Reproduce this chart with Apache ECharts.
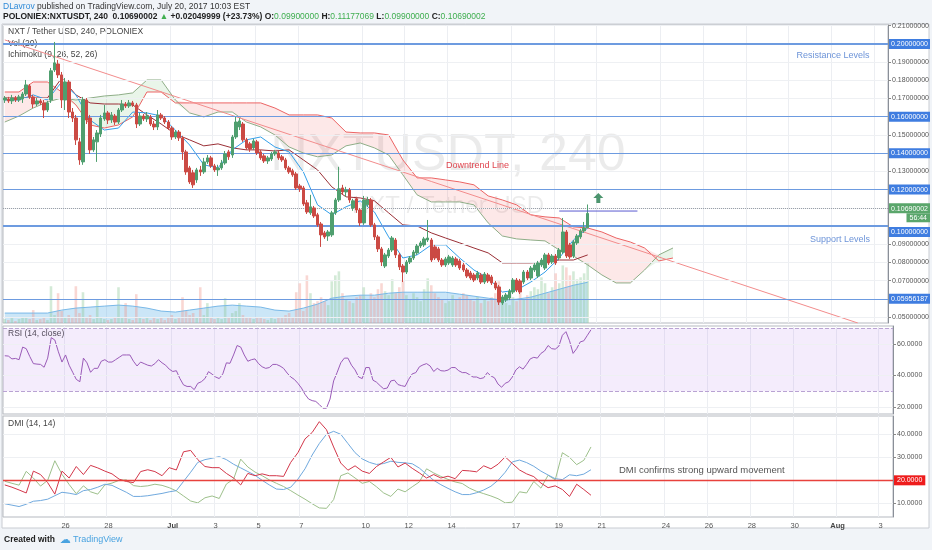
<!DOCTYPE html>
<html>
<head>
<meta charset="utf-8">
<script src="https://cdn.jsdelivr.net/npm/echarts@6/dist/echarts.min.js"></script>
<style>
  html, body { margin: 0; padding: 0; background: #f1f4f8; }
  #chart { width: 932px; height: 550px; }
</style>
</head>
<body>
<div id="chart"></div>
<script>
// 4h slots from Jun 23 04:00 to Aug 3 16:00 (UTC)
var START = Date.UTC(2017, 5, 23, 4);
var SLOTS = 249;

// day ticks shown on the time axis
var xTicks = [
  ['2017-06-26', '26'], ['2017-06-28', '28'], ['2017-07-01', 'Jul'], ['2017-07-03', '3'],
  ['2017-07-05', '5'], ['2017-07-07', '7'], ['2017-07-10', '10'], ['2017-07-12', '12'],
  ['2017-07-14', '14'], ['2017-07-17', '17'], ['2017-07-19', '19'], ['2017-07-21', '21'],
  ['2017-07-24', '24'], ['2017-07-26', '26'], ['2017-07-28', '28'], ['2017-07-30', '30'],
  ['2017-08-01', 'Aug'], ['2017-08-03', '3']
];

// candles: [open, close, low, high]
var candles = [
  [0.1692,0.1703,0.1676,0.1714],[0.1698,0.1687,0.1676,0.1709],[0.1687,0.1703,0.1670,0.1720],[0.1703,0.1692,0.1681,0.1714],
  [0.1692,0.1709,0.1681,0.1720],[0.1698,0.1725,0.1676,0.1736],[0.1725,0.1775,0.1714,0.1802],[0.1769,0.1709,0.1698,0.1780],
  [0.1709,0.1670,0.1648,0.1720],[0.1670,0.1687,0.1659,0.1703],[0.1687,0.1676,0.1665,0.1698],[0.1676,0.1637,0.1593,0.1692],
  [0.1637,0.1676,0.1626,0.1687],[0.1692,0.1852,0.1676,0.1868],[0.1857,0.1896,0.1846,0.2011],[0.1890,0.1830,0.1813,0.1912],
  [0.1830,0.1692,0.1648,0.1846],[0.1692,0.1791,0.1637,0.1813],[0.1791,0.1626,0.1593,0.1802],[0.1626,0.1593,0.1571,0.1648],
  [0.1593,0.1473,0.1445,0.1610],[0.1462,0.1363,0.1336,0.1484],[0.1352,0.1692,0.1336,0.1709],[0.1692,0.1582,0.1560,0.1703],
  [0.1593,0.1418,0.1396,0.1610],[0.1418,0.1473,0.1407,0.1489],[0.1462,0.1511,0.1352,0.1527],[0.1505,0.1593,0.1489,0.1610],
  [0.1588,0.1621,0.1577,0.1665],[0.1621,0.1582,0.1560,0.1632],[0.1582,0.1610,0.1566,0.1626],[0.1604,0.1571,0.1555,0.1615],
  [0.1571,0.1637,0.1560,0.1648],[0.1637,0.1670,0.1626,0.1692],[0.1670,0.1659,0.1648,0.1681],[0.1659,0.1676,0.1648,0.1692],
  [0.1676,0.1665,0.1654,0.1687],[0.1665,0.1560,0.1538,0.1676],[0.1560,0.1604,0.1549,0.1621],[0.1604,0.1588,0.1577,0.1615],
  [0.1588,0.1604,0.1571,0.1626],[0.1599,0.1560,0.1549,0.1610],[0.1560,0.1544,0.1527,0.1577],[0.1544,0.1610,0.1527,0.1637],
  [0.1610,0.1593,0.1582,0.1621],[0.1593,0.1571,0.1560,0.1604],[0.1571,0.1538,0.1527,0.1582],[0.1538,0.1489,0.1473,0.1549],
  [0.1489,0.1516,0.1478,0.1527],[0.1516,0.1484,0.1467,0.1527],[0.1484,0.1407,0.1363,0.1495],[0.1407,0.1297,0.1281,0.1418],
  [0.1319,0.1242,0.1231,0.1330],[0.1292,0.1226,0.1209,0.1308],[0.1253,0.1308,0.1237,0.1319],[0.1308,0.1297,0.1275,0.1330],
  [0.1297,0.1352,0.1286,0.1374],[0.1352,0.1374,0.1341,0.1390],[0.1374,0.1330,0.1319,0.1385],[0.1330,0.1308,0.1297,0.1341],
  [0.1308,0.1319,0.1275,0.1336],[0.1319,0.1346,0.1308,0.1363],[0.1346,0.1396,0.1336,0.1412],[0.1407,0.1380,0.1363,0.1418],
  [0.1390,0.1489,0.1374,0.1500],[0.1489,0.1571,0.1478,0.1599],[0.1544,0.1577,0.1527,0.1593],[0.1560,0.1473,0.1462,0.1571],
  [0.1473,0.1429,0.1418,0.1484],[0.1451,0.1423,0.1407,0.1462],[0.1429,0.1467,0.1418,0.1478],[0.1462,0.1401,0.1390,0.1473],
  [0.1407,0.1374,0.1363,0.1418],[0.1385,0.1357,0.1346,0.1396],[0.1357,0.1374,0.1341,0.1385],[0.1368,0.1396,0.1357,0.1407],
  [0.1396,0.1407,0.1385,0.1418],[0.1401,0.1374,0.1363,0.1412],[0.1380,0.1363,0.1352,0.1390],[0.1363,0.1319,0.1308,0.1374],
  [0.1319,0.1297,0.1286,0.1330],[0.1303,0.1281,0.1270,0.1314],[0.1286,0.1209,0.1198,0.1297],[0.1220,0.1204,0.1187,0.1231],
  [0.1209,0.1121,0.1110,0.1220],[0.1127,0.1077,0.1066,0.1143],[0.1072,0.1105,0.1061,0.1171],[0.1099,0.1055,0.1044,0.1110],
  [0.1061,0.1006,0.0995,0.1072],[0.1011,0.0951,0.0885,0.1022],[0.0962,0.0940,0.0929,0.0973],[0.0945,0.0967,0.0918,0.0978],
  [0.0951,0.1072,0.0940,0.1083],[0.1072,0.1143,0.1061,0.1154],[0.1143,0.1204,0.1132,0.1325],[0.1209,0.1187,0.1171,0.1226],
  [0.1187,0.1198,0.1160,0.1215],[0.1198,0.1143,0.1127,0.1209],[0.1099,0.1138,0.1083,0.1149],[0.1149,0.1088,0.1072,0.1160],
  [0.1088,0.1017,0.1000,0.1099],[0.1017,0.1143,0.1006,0.1165],[0.1116,0.1143,0.1105,0.1160],[0.1143,0.1006,0.0995,0.1154],
  [0.1006,0.0940,0.0923,0.1017],[0.0940,0.0874,0.0857,0.0951],[0.0874,0.0802,0.0780,0.0885],[0.0780,0.0841,0.0769,0.0852],
  [0.0835,0.0868,0.0824,0.0879],[0.0868,0.0934,0.0857,0.0945],[0.0923,0.0841,0.0824,0.0934],[0.0841,0.0775,0.0758,0.0852],
  [0.0780,0.0747,0.0692,0.0791],[0.0747,0.0802,0.0736,0.0813],[0.0802,0.0824,0.0791,0.0835],[0.0824,0.0857,0.0813,0.0868],
  [0.0852,0.0890,0.0841,0.0901],[0.0890,0.0907,0.0879,0.0918],[0.0896,0.0929,0.0885,0.0940],[0.0923,0.0934,0.0912,0.1033],
  [0.0923,0.0813,0.0802,0.0934],[0.0885,0.0824,0.0813,0.0896],[0.0874,0.0813,0.0802,0.0885],[0.0813,0.0786,0.0775,0.0824],
  [0.0786,0.0819,0.0775,0.0830],[0.0797,0.0830,0.0786,0.0841],[0.0786,0.0824,0.0775,0.0835],[0.0819,0.0786,0.0775,0.0830],
  [0.0808,0.0769,0.0758,0.0819],[0.0786,0.0758,0.0747,0.0797],[0.0758,0.0725,0.0714,0.0769],[0.0742,0.0714,0.0703,0.0753],
  [0.0731,0.0703,0.0692,0.0742],[0.0714,0.0742,0.0703,0.0753],[0.0731,0.0692,0.0681,0.0742],[0.0692,0.0736,0.0681,0.0747],
  [0.0731,0.0698,0.0687,0.0742],[0.0720,0.0687,0.0676,0.0731],[0.0687,0.0659,0.0648,0.0698],[0.0665,0.0582,0.0566,0.0676],
  [0.0577,0.0610,0.0566,0.0621],[0.0593,0.0621,0.0582,0.0632],[0.0604,0.0643,0.0593,0.0654],[0.0637,0.0703,0.0626,0.0714],
  [0.0703,0.0648,0.0637,0.0714],[0.0698,0.0637,0.0626,0.0709],[0.0692,0.0747,0.0681,0.0758],[0.0747,0.0714,0.0703,0.0758],
  [0.0714,0.0769,0.0703,0.0780],[0.0758,0.0786,0.0747,0.0797],[0.0725,0.0797,0.0714,0.0808],[0.0786,0.0813,0.0775,0.0824],
  [0.0769,0.0841,0.0758,0.0852],[0.0841,0.0797,0.0786,0.0852],[0.0802,0.0835,0.0791,0.0846],[0.0835,0.0797,0.0786,0.0846],
  [0.0824,0.0868,0.0813,0.0879],[0.0857,0.0967,0.0846,0.1044],[0.0967,0.0835,0.0824,0.0978],[0.0896,0.0830,0.0819,0.0907],
  [0.0835,0.0912,0.0824,0.0923],[0.0907,0.0945,0.0896,0.0956],[0.0940,0.0973,0.0929,0.0984],[0.0973,0.0989,0.0962,0.1022],
  [0.0990,0.1069,0.0990,0.1118]
];

// volume per candle (thousands)
var volume = [
  4,3,5,2,4,6,5,4,13,3, 4,6,3,37,8,30,12,6,8,5, 37,10,31,6,8,4,24,5,4,3,
  4,6,36,5,20,4,3,29,6,4, 5,3,6,4,5,3,6,8,4,5, 26,12,8,10,6,36,8,20,5,4,
  5,4,25,6,10,12,20,8,6,5, 4,6,5,4,3,5,4,6,5,8, 10,6,31,40,12,48,30,20,22,26,
  22,18,42,48,52,30,24,22,20,26, 28,36,24,30,26,34,40,32,28,44, 30,36,42,28,24,30,26,22,34,45,
  38,30,26,24,20,22,28,24,26,30, 28,24,22,26,20,24,22,26,30,42, 24,20,18,26,22,30,24,28,32,36,
  34,46,40,30,36,50,40,58,56,48, 52,44,46,50,60
];
// Vol(20) average, one value every 4 candles
var volumeAvg = [10,10,10,10,13,15,16,17,18,17,15,12,11,13,15,17,18,17,16,13,12,15,19,25,27,28,28,30,31,31,31,31,29,27,25,23,24,26,30,34,38,41];

// Ichimoku lines, one value every 4 candles (spans run 26 bars ahead)
var tenkan = [0.1692,0.1692,0.1720,0.1692,0.1791,0.1720,0.1582,0.1527,0.1538,0.1626,0.1621,0.1604,0.1527,0.1445,0.1336,0.1319,0.1418,0.1473,0.1489,0.1434,0.1407,0.1297,0.1116,0.1061,0.1105,0.1138,0.1077,0.0940,0.0824,0.0841,0.0896,0.0896,0.0824,0.0758,0.0714,0.0637,0.0648,0.0692,0.0747,0.0824,0.0923,0.0989];
var kijun = [0.1703,0.1703,0.1703,0.1703,0.1813,0.1720,0.1676,0.1670,0.1670,0.1665,0.1610,0.1560,0.1505,0.1473,0.1440,0.1451,0.1429,0.1418,0.1418,0.1412,0.1418,0.1363,0.1308,0.1215,0.1160,0.1154,0.1138,0.1072,0.1006,0.1000,0.0962,0.0934,0.0907,0.0879,0.0852,0.0797,0.0797,0.0797,0.0802,0.0813,0.0813,0.0841];
var spanA = [0.1571,0.1604,0.1648,0.1681,0.1703,0.1692,0.1703,0.1714,0.1720,0.1731,0.1802,0.1802,0.1692,0.1621,0.1599,0.1626,0.1626,0.1571,0.1544,0.1500,0.1434,0.1401,0.1380,0.1390,0.1440,0.1456,0.1429,0.1390,0.1281,0.1171,0.1132,0.1132,0.1132,0.1116,0.1017,0.0945,0.0929,0.0923,0.0918,0.0868,0.0835,0.0786,0.0731,0.0687,0.0687,0.0758,0.0841,0.0879];
var spanB = [0.1736,0.1736,0.1791,0.1791,0.1736,0.1665,0.1555,0.1538,0.1555,0.1599,0.1736,0.1736,0.1676,0.1676,0.1676,0.1676,0.1676,0.1676,0.1676,0.1648,0.1610,0.1610,0.1610,0.1593,0.1516,0.1511,0.1511,0.1500,0.1363,0.1264,0.1264,0.1253,0.1242,0.1226,0.1165,0.1143,0.1116,0.1061,0.1050,0.1044,0.0995,0.0989,0.0967,0.0934,0.0912,0.0879,0.0808,0.0824];

// RSI(14) per candle
var rsi = [
  52.5,52.3,50.5,50.8,50,58,57,52,47.5,47.2, 47,45.2,51,64,62.5,55,48.5,53,46.5,42,
  37.5,36,51,48,42,44.5,44.5,49,50,48.5, 48.5,50,51.5,53,53,53,49,46,48.5,47.5,
  46.5,46,47.5,50,48,46.5,44,42.5,43,38, 34,33,33,31,35,36,38,42.4,40.8,39,
  38,41,48,47.7,53,59,58,53,49,50, 50.5,47.5,45.5,44.5,45,47,47,46,44.5,41.5,
  39,37.5,35,32,28,25,24,23.5,21.5,19.2, 19.2,25,36.5,42,48,51,51,46.5,43.5,39,
  38,45,45,37,35.7,33.5,31.5,32,36.5,37, 34.2,33.5,33,37.5,41,41.8,45.5,46.7,47.5,46,
  42.5,44.5,43,42.8,43.4,45,45,43,41.8,41.8, 40.5,39,39,38,38.5,41.8,39.7,38.5,34.5,32.5,
  35,36,39,43.5,45.5,44,47,50.5,51.5,51, 54,55.5,59,57,56.7,58.5,65.5,67.8,62,54,
  57,61.3,62,65.5,69
];

// DMI(14,14), one value every 2 candles
var diMinus = [18,17,15.8,14.5,24,22.5,19,14,24,21,26,22.5,26.5,25.4,24,22.8,20.5,19.5,19,23.8,24.6,23.8,22,25.5,24.5,32.4,33,29,26,25.5,25.5,23,21,18,23,22,22.8,22,22,21.7,27.8,32,38,40.8,45.5,42,34.5,27.5,24.4,26.3,24,23,26,28,30,25.8,27.5,25.2,23.2,21,22.5,21,21.8,20.7,24.3,24.1,23.7,26.3,25,27,30.2,27.3,24.5,22.8,21.6,18.8,16.8,17.6,16,13,18.3,16,13.5];
var diPlus = [19.6,18.7,17.9,23.9,21,17.5,20,28.5,22.6,18.2,14.2,17.6,15,14,18,18.8,20,20.2,17.7,17.3,17.6,18.3,17.8,16.8,15.4,13.2,11,10.2,12.4,13.2,12.1,18.4,20.5,29.2,25.8,23.6,22,20.2,18.7,17.3,15.5,13.6,11.8,9.8,8,7.8,11.6,22,23.2,21,18.7,19.5,17.2,14.5,13,16.2,15,17.2,19.3,25,23.2,21.7,20.4,19.3,18.6,16.6,15.2,14.2,13.2,12,10.2,10.5,15,14.5,19.5,16.6,22.2,20.2,32,30,26.8,28.7,34.5];
var adx = [9.8,9.2,8.6,9.6,10.9,11.2,11.8,13.3,14.8,14.4,13.8,15.5,16,17,18.3,17.8,16.3,14.8,13,13,13.3,13.8,14.3,15,15.5,19.5,23.5,27.8,29,29.6,30.3,29,27,25.4,23.8,22.2,20,18,16.2,16,17,20.5,25,31,36,40,41.3,40,36,32,29.3,27.8,26.9,27.3,28.3,27.8,27.6,27.2,25.3,22.6,20,18.1,16.5,15,13.8,13.8,14.6,15.8,17.4,20,23.5,28,28.8,27.7,26.1,24,22.3,20.7,20.3,22.4,22,22.7,24.6];

// drawn levels and price axis values
var levels = [0.20, 0.16, 0.14, 0.12, 0.10, 0.05956187];
var priceGrid = [0.05,0.06,0.07,0.08,0.09,0.10,0.11,0.12,0.13,0.14,0.15,0.16,0.17,0.18,0.19,0.20,0.21];
var priceLabels = [0.05,0.07,0.08,0.09,0.11,0.13,0.15,0.17,0.18,0.19,0.21];
var lastPrice = 0.10690002;
var trendLine = [[0, 0.2022], [240, 0.0467]];
var breakLine = [[156, 0.1082], [178, 0.1082]];
var breakArrow = [167, 0.1154];

var FONT = 'Liberation Sans, Arial, sans-serif';

var categories = [];
for (var i = 0; i < SLOTS; i++) {
  categories.push(new Date(START + i * 4 * 3600 * 1000).toISOString().slice(0, 13).replace('T', ' '));
}
var tickMap = {};
xTicks.forEach(function (t) { tickMap[t[0] + ' 00'] = t[1]; });
var isTick = function (idx, val) { return tickMap.hasOwnProperty(val); };
var cat = function (i) { return categories[i]; };
var every = function (arr, step) { return arr.map(function (v, k) { return [cat(k * step), v]; }); };

function xAxisFor(gridIndex, showLabels) {
  return {
    type: 'category', gridIndex: gridIndex, data: categories, boundaryGap: true,
    axisLine: { show: false }, axisTick: { show: false },
    axisLabel: {
      show: showLabels, interval: isTick, fontSize: 7.5, color: '#555', margin: 5, fontFamily: FONT,
      formatter: function (val) {
        var t = tickMap[val];
        return (t === 'Jul' || t === 'Aug') ? '{m|' + t + '}' : t;
      },
      rich: { m: { fontWeight: 'bold', fontSize: 7.5, color: '#444', fontFamily: FONT } }
    },
    splitLine: { show: true, interval: isTick, lineStyle: { color: '#eceef2', width: 1 } }
  };
}

function gridLine(v, color) {
  return { yAxis: v, lineStyle: { color: color || '#eef0f3', width: 1, type: 'solid' }, label: { show: false } };
}

var axisLabelBase = { fontSize: 7, color: '#555', margin: 4, fontFamily: FONT };

var lineMarks = priceGrid.map(function (v) { return gridLine(v); });
levels.forEach(function (v) {
  lineMarks.push({
    yAxis: v,
    lineStyle: { color: '#6d9be0', width: (v === 0.2 || v === 0.1) ? 1.8 : 1.2, type: 'solid' },
    label: {
      show: true, position: 'end', distance: 1, formatter: v.toFixed(8),
      backgroundColor: '#3f7de0', color: '#fff', fontSize: 7, padding: [2, 2, 1, 2], fontFamily: FONT,
      offset: v === 0.1 ? [0, 6] : [0, 0]
    }
  });
});
lineMarks.push({
  yAxis: lastPrice,
  lineStyle: { color: '#9aa0a8', width: 1, type: 'dotted' },
  label: {
    show: true, position: 'end', distance: 1, offset: [0, 5],
    formatter: '{a|' + lastPrice.toFixed(8) + '}\n{b|56:44}',
    rich: {
      a: { backgroundColor: '#5aa66b', color: '#fff', fontSize: 7, padding: [2, 2, 1, 2], fontFamily: FONT },
      b: { backgroundColor: '#5aa66b', color: '#fff', fontSize: 7, padding: [1, 3], align: 'right', fontFamily: FONT }
    }
  }
});

function note(idx, value, text, color, size) {
  return {
    name: text, coord: [cat(idx), value], symbol: 'circle', symbolSize: 1,
    itemStyle: { color: 'rgba(0,0,0,0)' },
    label: { show: true, position: 'inside', formatter: text, color: color, fontSize: size, fontFamily: FONT }
  };
}

var option = {
  animation: false,
  backgroundColor: '#f1f4f8',
  grid: [
    { left: 3, right: 39, top: 25, height: 298, show: true, borderColor: '#b5b9c0', borderWidth: 1 },
    { left: 3, right: 39, top: 326, height: 88, show: true, borderColor: '#b5b9c0', borderWidth: 1 },
    { left: 3, right: 39, top: 416, height: 101, show: true, borderColor: '#b5b9c0', borderWidth: 1 }
  ],
  xAxis: [xAxisFor(0, false), xAxisFor(1, false), xAxisFor(2, true)],
  yAxis: [
    {
      type: 'value', gridIndex: 0, position: 'right', min: 0.0467, max: 0.2104, scale: true,
      axisLine: { show: true, lineStyle: { color: '#8a8f98' } },
      axisTick: { show: true, length: 3, inside: false, customValues: priceLabels, lineStyle: { color: '#888' } },
      axisLabel: Object.assign({ customValues: priceLabels, formatter: function (v) { return v.toFixed(8); } }, axisLabelBase),
      splitLine: { show: false }
    },
    { type: 'value', gridIndex: 0, min: 0, max: 300, show: false, splitLine: { show: false } },
    {
      type: 'value', gridIndex: 1, position: 'right', min: 15.5, max: 71.4,
      axisLine: { show: true, lineStyle: { color: '#8a8f98' } },
      axisTick: { show: true, length: 3, customValues: [20, 40, 60], lineStyle: { color: '#888' } },
      axisLabel: Object.assign({ customValues: [20, 40, 60], formatter: function (v) { return v.toFixed(4); } }, axisLabelBase),
      splitLine: { show: false }
    },
    {
      type: 'value', gridIndex: 2, position: 'right', min: 4.05, max: 47.96,
      axisLine: { show: true, lineStyle: { color: '#8a8f98' } },
      axisTick: { show: true, length: 3, customValues: [10, 30, 40], lineStyle: { color: '#888' } },
      axisLabel: Object.assign({ customValues: [10, 30, 40], formatter: function (v) { return v.toFixed(4); } }, axisLabelBase),
      splitLine: { show: false }
    }
  ],
  graphic: [
    { type: 'rect', z: -10, shape: { x: 2, y: 24, width: 927, height: 504 }, style: { fill: '#ffffff', stroke: '#c9ccd2', lineWidth: 1 } },
    { type: 'text', z: -9, x: 448, y: 156, style: { text: 'NXTUSDT, 240', font: '52px ' + FONT, fill: 'rgba(0,0,0,0.08)', align: 'center', verticalAlign: 'middle' } },
    { type: 'text', z: -9, x: 448, y: 206, style: { text: 'NXT / Tether USD', font: '24px ' + FONT, fill: 'rgba(0,0,0,0.08)', align: 'center', verticalAlign: 'middle' } },
    {
      type: 'text', x: 3, y: 7,
      style: {
        text: '{a|DLavrov} {b|published on TradingView.com, July 20, 2017 10:03 EST}',
        verticalAlign: 'middle', font: '8.5px ' + FONT,
        rich: { a: { fill: '#2e8ad8', font: '8.5px ' + FONT }, b: { fill: '#333', font: '8.5px ' + FONT } }
      }
    },
    {
      type: 'text', x: 3, y: 17,
      style: {
        text: '{k|POLONIEX:NXTUSDT, 240}  {k|0.10690002} {g|▲} {k|+0.02049999 (+23.73%)} {k|O:}{g|0.09900000} {k|H:}{g|0.11177069} {k|L:}{g|0.09900000} {k|C:}{g|0.10690002}',
        verticalAlign: 'middle', font: '8.5px ' + FONT,
        rich: {
          k: { fill: '#222', font: 'bold 8.5px ' + FONT },
          g: { fill: '#3fae4f', font: '8.5px ' + FONT }
        }
      }
    },
    { type: 'text', x: 8, y: 32, style: { text: 'NXT / Tether USD, 240, POLONIEX', font: '8.5px ' + FONT, fill: '#444', verticalAlign: 'middle' } },
    { type: 'text', x: 8, y: 44, style: { text: 'Vol (20)', font: '8.5px ' + FONT, fill: '#444', verticalAlign: 'middle' } },
    { type: 'text', x: 8, y: 55, style: { text: 'Ichimoku (9, 26, 52, 26)', font: '8.5px ' + FONT, fill: '#444', verticalAlign: 'middle' } },
    { type: 'text', x: 8, y: 334, style: { text: 'RSI (14, close)', font: '8.5px ' + FONT, fill: '#444', verticalAlign: 'middle' } },
    { type: 'text', x: 8, y: 424, style: { text: 'DMI (14, 14)', font: '8.5px ' + FONT, fill: '#444', verticalAlign: 'middle' } },
    {
      type: 'text', x: 4, y: 540,
      style: {
        text: '{a|Created with}  {c|☁} {b|TradingView}', verticalAlign: 'middle', font: '8.5px ' + FONT,
        rich: {
          a: { fill: '#222', font: 'bold 8.5px ' + FONT },
          c: { fill: '#4aa3e0', font: '11px DejaVu Sans' },
          b: { fill: '#4aa3e0', font: '9px ' + FONT }
        }
      }
    }
  ],
  series: [
    {
      name: 'Vol', type: 'bar', xAxisIndex: 0, yAxisIndex: 1, barWidth: 2.6, z: 1, silent: true,
      data: volume.map(function (v, i) {
        var up = candles[i][1] >= candles[i][0];
        return { value: v, itemStyle: { color: up ? 'rgba(140,200,150,0.38)' : 'rgba(240,150,140,0.38)' } };
      })
    },
    {
      name: 'Vol MA', type: 'line', xAxisIndex: 0, yAxisIndex: 1, symbol: 'none', z: 1, silent: true,
      data: every(volumeAvg, 4),
      lineStyle: { color: '#7ab9e8', width: 1 },
      areaStyle: { color: 'rgba(120,190,235,0.55)' }
    },
    {
      name: 'cloudBase', type: 'line', stack: 'cloud', symbol: 'none', silent: true, z: 2,
      data: spanA.map(function (a, k) { return [cat(k * 4), Math.min(a, spanB[k])]; }),
      lineStyle: { opacity: 0 }
    },
    {
      name: 'cloudUp', type: 'line', stack: 'cloud', symbol: 'none', silent: true, z: 2,
      data: spanA.map(function (a, k) { return [cat(k * 4), Math.max(a - spanB[k], 0)]; }),
      lineStyle: { opacity: 0 }, areaStyle: { color: 'rgba(110,190,110,0.22)' }
    },
    {
      name: 'cloudDown', type: 'line', stack: 'cloud', symbol: 'none', silent: true, z: 2,
      data: spanA.map(function (a, k) { return [cat(k * 4), Math.max(spanB[k] - a, 0)]; }),
      lineStyle: { opacity: 0 }, areaStyle: { color: 'rgba(240,95,95,0.2)' }
    },
    { name: 'Lead 1', type: 'line', symbol: 'none', silent: true, data: every(spanA, 4), lineStyle: { color: '#8fae88', width: 1 } },
    { name: 'Lead 2', type: 'line', symbol: 'none', silent: true, data: every(spanB, 4), lineStyle: { color: '#ec6464', width: 1 } },
    { name: 'Base', type: 'line', symbol: 'none', silent: true, data: every(kijun, 4), lineStyle: { color: '#9a2f36', width: 1 } },
    { name: 'Conversion', type: 'line', symbol: 'none', silent: true, data: every(tenkan, 4), lineStyle: { color: '#34a0ea', width: 1 } },
    {
      name: 'Downtrend', type: 'line', symbol: 'none', silent: true,
      data: trendLine.map(function (p) { return [cat(p[0]), p[1]]; }),
      lineStyle: { color: '#f28c8c', width: 1 }
    },
    {
      name: 'NXTUSDT', type: 'candlestick', xAxisIndex: 0, yAxisIndex: 0, barWidth: 3, z: 5,
      data: candles,
      itemStyle: { color: '#4f9f6f', color0: '#cb4a44', borderColor: '#4f9f6f', borderColor0: '#cb4a44', borderWidth: 1 },
      markLine: { silent: true, symbol: ['none', 'none'], animation: false, data: lineMarks },
      markPoint: {
        silent: true, animation: false,
        data: [
          note(233, 0.1934, 'Resistance Levels', '#6d94d8', 9),
          note(235, 0.0923, 'Support Levels', '#6d94d8', 9),
          note(133, 0.1330, 'Downtrend Line', '#e0464f', 9)
        ]
      }
    },
    {
      name: 'Break', type: 'line', symbol: 'none', silent: true, z: 6,
      data: breakLine.map(function (p) { return [cat(p[0]), p[1]]; }),
      lineStyle: { color: '#5b5bd0', width: 1 }
    },
    {
      name: 'Arrow', type: 'scatter', silent: true, z: 6,
      data: [[cat(breakArrow[0]), breakArrow[1]]],
      symbol: 'path://M5,0 L10,5 L7,5 L7,10 L3,10 L3,5 L0,5 Z', symbolSize: [10, 10],
      itemStyle: { color: '#1f7a4a' }
    },
    {
      name: 'RSI', type: 'line', xAxisIndex: 1, yAxisIndex: 2, symbol: 'none', silent: true,
      data: rsi.map(function (v, i) { return [cat(i), v]; }),
      lineStyle: { color: '#9a5bb8', width: 1 },
      markArea: { silent: true, itemStyle: { color: 'rgba(178,130,238,0.15)' }, data: [[{ yAxis: 30 }, { yAxis: 70 }]] },
      markLine: {
        silent: true, symbol: ['none', 'none'], animation: false,
        data: [
          gridLine(20), gridLine(40), gridLine(60),
          { yAxis: 30, lineStyle: { color: '#b9a3d3', type: 'dashed', width: 1 }, label: { show: false } },
          { yAxis: 70, lineStyle: { color: '#b9a3d3', type: 'dashed', width: 1 }, label: { show: false } }
        ]
      }
    },
    {
      name: '+DI', type: 'line', xAxisIndex: 2, yAxisIndex: 3, symbol: 'none', silent: true,
      data: every(diPlus, 2), lineStyle: { color: '#9dc08b', width: 1 }
    },
    {
      name: 'ADX', type: 'line', xAxisIndex: 2, yAxisIndex: 3, symbol: 'none', silent: true,
      data: every(adx, 2), lineStyle: { color: '#70a9de', width: 1 },
      markLine: {
        silent: true, symbol: ['none', 'none'], animation: false,
        data: [
          gridLine(10), gridLine(30), gridLine(40),
          {
            yAxis: 20, lineStyle: { color: '#e8413c', width: 1.3, type: 'solid' },
            label: { show: true, position: 'end', distance: 1, formatter: '20.0000', backgroundColor: '#ee1c1c', color: '#fff', fontSize: 7, padding: [2, 3, 1, 3], fontFamily: FONT }
          }
        ]
      },
      markPoint: {
        silent: true, animation: false,
        data: [note(195, 24.2, 'DMI confirms strong upward movement', '#555', 9.5)]
      }
    },
    {
      name: '-DI', type: 'line', xAxisIndex: 2, yAxisIndex: 3, symbol: 'none', silent: true,
      data: every(diMinus, 2), lineStyle: { color: '#d3374a', width: 1 }
    }
  ]
};

var myChart = echarts.init(document.getElementById('chart'));
myChart.setOption(option);
</script>
</body>
</html>
